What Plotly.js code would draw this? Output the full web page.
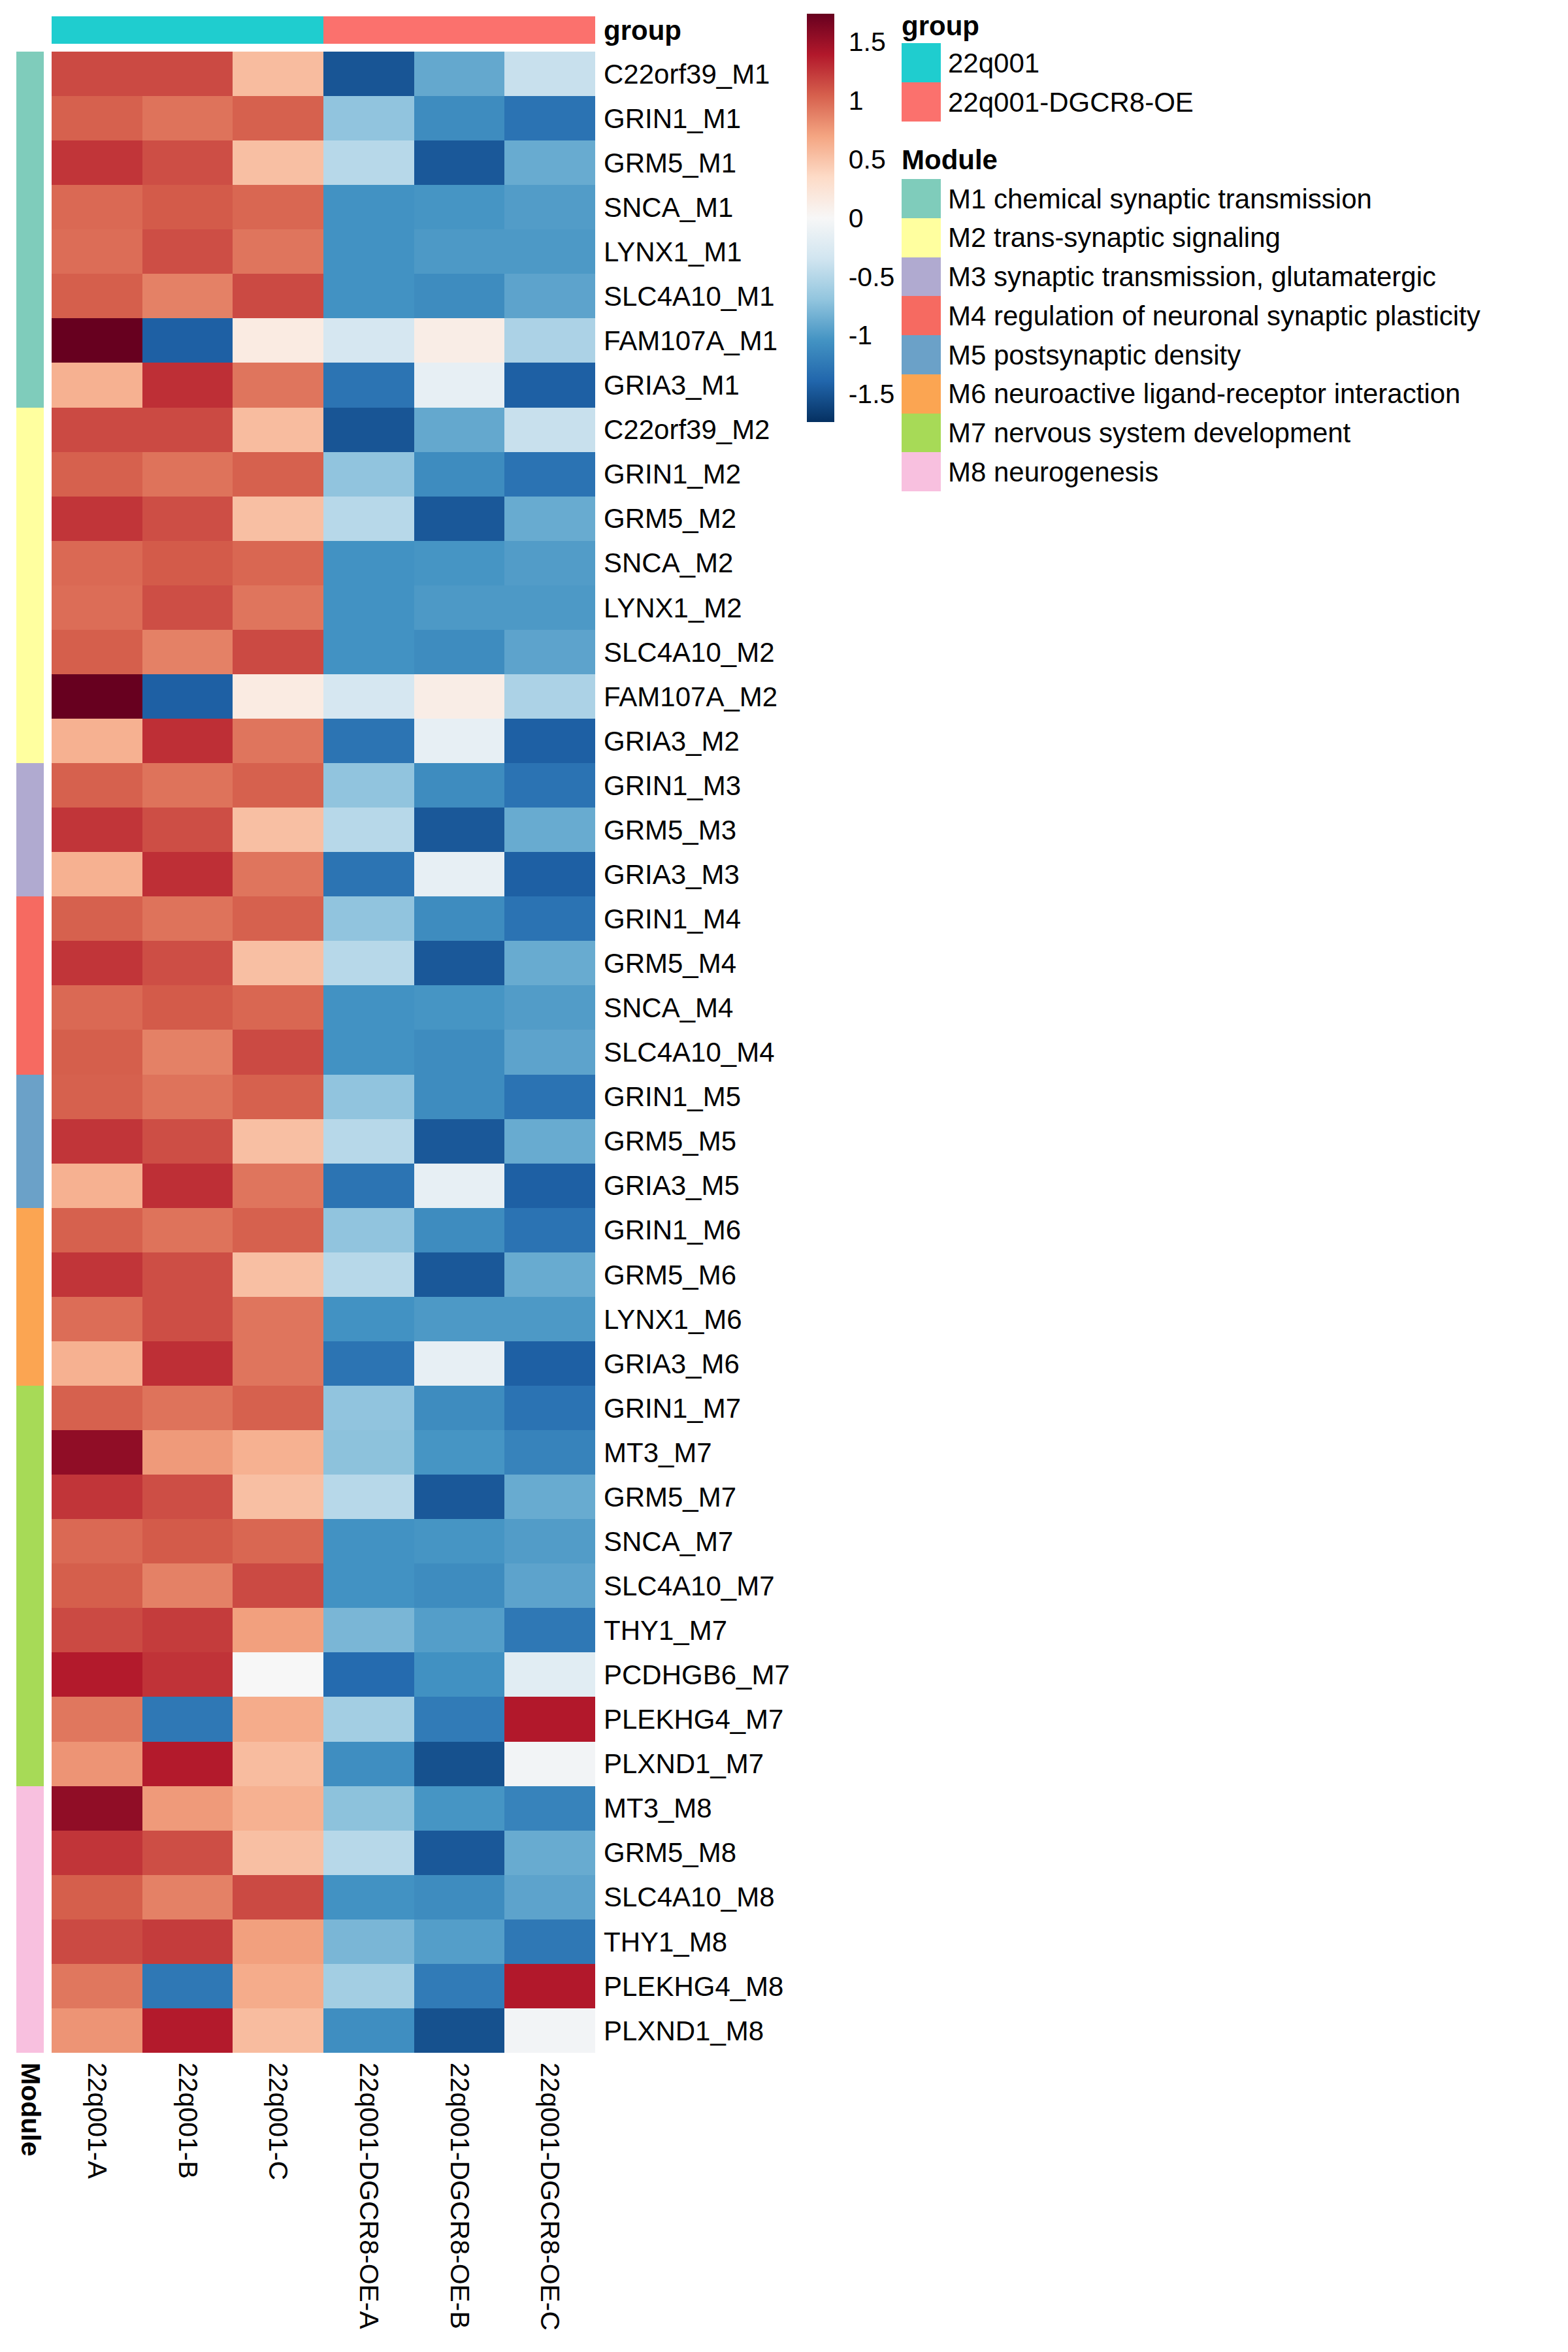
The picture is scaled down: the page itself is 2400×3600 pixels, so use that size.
<!DOCTYPE html>
<html><head><meta charset="utf-8">
<script src="https://cdn.plot.ly/plotly-3.0.1.min.js"></script>
<style>html,body{margin:0;padding:0;background:#fff}</style>
</head><body><div id="chart" style="width:2400px;height:3600px"></div>
<script>
// ---------- data ----------
const samples = ['22q001-A','22q001-B','22q001-C','22q001-DGCR8-OE-A','22q001-DGCR8-OE-B','22q001-DGCR8-OE-C'];
const sampleGroup = ['22q001','22q001','22q001','22q001-DGCR8-OE','22q001-DGCR8-OE','22q001-DGCR8-OE'];
const groupNames = ['22q001','22q001-DGCR8-OE'];
const groupColors = ['#1FCDCF','#FB716D'];
const moduleIds = ['M1','M2','M3','M4','M5','M6','M7','M8'];
const moduleNames = ['M1 chemical synaptic transmission','M2 trans-synaptic signaling','M3 synaptic transmission, glutamatergic',
  'M4 regulation of neuronal synaptic plasticity','M5 postsynaptic density','M6 neuroactive ligand-receptor interaction',
  'M7 nervous system development','M8 neurogenesis'];
const moduleColors = ['#7FCCBB','#FFFF9F','#B0AAD0','#F66A61','#6BA1C8','#FBA552','#A7DA57','#F8C0DF'];

// row-scaled expression per gene (samples in order above)
const C22orf39 = [1.15, 1.15, 0.55, -1.50, -0.90, -0.40];
const GRIN1    = [1.04, 0.95, 1.04, -0.70, -1.10, -1.29];
const GRM5     = [1.25, 1.13, 0.53, -0.49, -1.48, -0.88];
const SNCA     = [1.00, 1.07, 1.01, -1.05, -1.03, -0.98];
const LYNX1    = [0.98, 1.13, 0.94, -1.05, -1.00, -1.00];
const SLC4A10  = [1.05, 0.88, 1.15, -1.05, -1.10, -0.93];
const FAM107A  = [1.74, -1.43, 0.15, -0.30, 0.12, -0.55];
const GRIA3    = [0.62, 1.28, 0.94, -1.28, -0.15, -1.43];
const MT3      = [1.55, 0.75, 0.62, -0.72, -1.03, -1.17];
const THY1     = [1.15, 1.22, 0.72, -0.80, -0.97, -1.25];
const PCDHGB6  = [1.38, 1.26, 0.00, -1.35, -1.06, -0.20];
const PLEKHG4  = [0.93, -1.25, 0.65, -0.60, -1.23, 1.39];
const PLXND1   = [0.78, 1.38, 0.55, -1.08, -1.53, -0.05];

const rowGenes = ['C22orf39','GRIN1','GRM5','SNCA','LYNX1','SLC4A10','FAM107A','GRIA3',
  'C22orf39','GRIN1','GRM5','SNCA','LYNX1','SLC4A10','FAM107A','GRIA3',
  'GRIN1','GRM5','GRIA3',
  'GRIN1','GRM5','SNCA','SLC4A10',
  'GRIN1','GRM5','GRIA3',
  'GRIN1','GRM5','LYNX1','GRIA3',
  'GRIN1','MT3','GRM5','SNCA','SLC4A10','THY1','PCDHGB6','PLEKHG4','PLXND1',
  'MT3','GRM5','SLC4A10','THY1','PLEKHG4','PLXND1'];
const rowModules = ['M1','M1','M1','M1','M1','M1','M1','M1',
  'M2','M2','M2','M2','M2','M2','M2','M2',
  'M3','M3','M3',
  'M4','M4','M4','M4',
  'M5','M5','M5',
  'M6','M6','M6','M6',
  'M7','M7','M7','M7','M7','M7','M7','M7','M7',
  'M8','M8','M8','M8','M8','M8'];

const colorbarTicks = [1.5, 1, 0.5, 0, -0.5, -1, -1.5];
const colorbarTickText = ['1.5','1','0.5','0','-0.5','-1','-1.5'];

// ---------- build ----------
const geneTable = {C22orf39, GRIN1, GRM5, SNCA, LYNX1, SLC4A10, FAM107A, GRIA3, MT3, THY1, PCDHGB6, PLEKHG4, PLXND1};
const z = rowGenes.map(g => geneTable[g]);
const rowLabels = rowGenes.map((g, i) => g + '_' + rowModules[i]);
const rowIdx = rowGenes.map((_, i) => i);
const colIdx = samples.map((_, i) => i);

const RdBu = ['#053061','#2166AC','#4393C3','#92C5DE','#D1E5F0','#F7F7F7','#FDDBC7','#F4A582','#D6604D','#B2182B','#67001F'];
const divScale = RdBu.map((c, i) => [i / (RdBu.length - 1), c]);
function stepScale(cols) {
  const out = [];
  cols.forEach((c, i) => { out.push([i / cols.length, c]); out.push([(i + 1) / cols.length, c]); });
  return out;
}
const W = 2400, H = 3600;
const px = v => v / W, py = v => 1 - v / H;
const FONT = 'Liberation Sans, Arial, Helvetica, sans-serif';
const maxAbs = 1.74;

const mainTop = 79, mainBot = 3142, mainL = 79, mainR = 911;

const traces = [
  { type: 'heatmap', x: colIdx, y: rowIdx, z: z, colorscale: divScale, zmin: -maxAbs, zmax: maxAbs,
    xaxis: 'x', yaxis: 'y', hoverinfo: 'skip',
    colorbar: { x: px(1235), xanchor: 'left', y: py(21), yanchor: 'top', len: 625, lenmode: 'pixels',
      thickness: 42, thicknessmode: 'pixels', xpad: 0, ypad: 0, outlinewidth: 0,
      tickmode: 'array', tickvals: colorbarTicks, ticktext: colorbarTickText,
      ticks: 'outside', ticklen: 14, tickcolor: 'rgba(0,0,0,0)',
      tickfont: { size: 41, family: FONT, color: '#000' } } },
  { type: 'heatmap', x: [0], y: rowIdx, z: rowModules.map(m => [moduleIds.indexOf(m)]),
    colorscale: stepScale(moduleColors), zmin: -0.5, zmax: moduleColors.length - 0.5, showscale: false,
    xaxis: 'x2', yaxis: 'y2', hoverinfo: 'skip' },
  { type: 'heatmap', x: colIdx, y: [0], z: [sampleGroup.map(g => groupNames.indexOf(g))],
    colorscale: stepScale(groupColors), zmin: -0.5, zmax: groupColors.length - 0.5, showscale: false,
    xaxis: 'x3', yaxis: 'y3', hoverinfo: 'skip' },
  { type: 'heatmap', x: [0], y: groupNames.map((_, i) => i), z: groupNames.map((_, i) => [i]),
    colorscale: stepScale(groupColors), zmin: -0.5, zmax: groupColors.length - 0.5, showscale: false,
    xaxis: 'x4', yaxis: 'y4', hoverinfo: 'skip' },
  { type: 'heatmap', x: [0], y: moduleNames.map((_, i) => i), z: moduleNames.map((_, i) => [i]),
    colorscale: stepScale(moduleColors), zmin: -0.5, zmax: moduleColors.length - 0.5, showscale: false,
    xaxis: 'x5', yaxis: 'y5', hoverinfo: 'skip' }
];

const base = { showgrid: false, zeroline: false, showline: false, fixedrange: true, ticks: '' };
const tf = { size: 42, family: FONT, color: '#000' };
const tfc = { size: 41, family: FONT, color: '#000' };

const layout = {
  width: W, height: H, margin: { l: 0, r: 0, t: 0, b: 0 },
  paper_bgcolor: '#fff', plot_bgcolor: '#fff', showlegend: false,
  xaxis: Object.assign({}, base, { domain: [px(mainL), px(mainR)], range: [-0.5, 5.5], anchor: 'y',
    tickmode: 'array', tickvals: colIdx, ticktext: samples, tickangle: 90, tickfont: tfc, ticklabelstandoff: 14 }),
  yaxis: Object.assign({}, base, { domain: [py(mainBot), py(mainTop)], range: [rowIdx.length - 0.5, -0.5], anchor: 'x',
    side: 'right', tickmode: 'array', tickvals: rowIdx, ticktext: rowLabels, tickfont: tf, ticklabelstandoff: 12 }),
  xaxis2: Object.assign({}, base, { domain: [px(25), px(67)], range: [-0.5, 0.5], anchor: 'y2',
    tickmode: 'array', tickvals: [0], ticktext: ['<b>Module</b>'], tickangle: 90, tickfont: tfc, ticklabelstandoff: 14 }),
  yaxis2: Object.assign({}, base, { domain: [py(mainBot), py(mainTop)], range: [rowIdx.length - 0.5, -0.5], anchor: 'x2',
    showticklabels: false }),
  xaxis3: Object.assign({}, base, { domain: [px(mainL), px(mainR)], range: [-0.5, 5.5], anchor: 'y3', showticklabels: false }),
  yaxis3: Object.assign({}, base, { domain: [py(67), py(25)], range: [-0.5, 0.5], anchor: 'x3', side: 'right',
    tickmode: 'array', tickvals: [0], ticktext: ['<b>group</b>'], tickfont: tf, ticklabelstandoff: 12 }),
  xaxis4: Object.assign({}, base, { domain: [px(1380), px(1440)], range: [-0.5, 0.5], anchor: 'y4', showticklabels: false }),
  yaxis4: Object.assign({}, base, { domain: [py(186), py(66)], range: [groupNames.length - 0.5, -0.5], anchor: 'x4', side: 'right',
    tickmode: 'array', tickvals: groupNames.map((_, i) => i), ticktext: groupNames, tickfont: tf, ticklabelstandoff: 10 }),
  xaxis5: Object.assign({}, base, { domain: [px(1380), px(1440)], range: [-0.5, 0.5], anchor: 'y5', showticklabels: false }),
  yaxis5: Object.assign({}, base, { domain: [py(752), py(274)], range: [moduleNames.length - 0.5, -0.5], anchor: 'x5', side: 'right',
    tickmode: 'array', tickvals: moduleNames.map((_, i) => i), ticktext: moduleNames, tickfont: tf, ticklabelstandoff: 10 }),
  annotations: [
    { text: '<b>group</b>', xref: 'paper', yref: 'paper', x: px(1378), y: py(40), xanchor: 'left', yanchor: 'middle',
      showarrow: false, font: tf },
    { text: '<b>Module</b>', xref: 'paper', yref: 'paper', x: px(1378), y: py(244), xanchor: 'left', yanchor: 'middle',
      showarrow: false, font: tf }
  ]
};

Plotly.newPlot('chart', traces, layout, { staticPlot: true, displayModeBar: false });
</script></body></html>
